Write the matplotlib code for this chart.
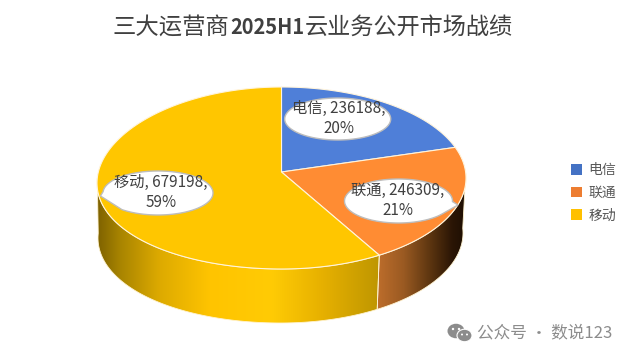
import numpy as np
import matplotlib
matplotlib.use("Agg")
import matplotlib.pyplot as plt
from matplotlib.patches import Ellipse, Polygon, Patch
from matplotlib.colors import LinearSegmentedColormap

plt.rcParams['font.family'] = ['Noto Sans CJK SC', 'DejaVu Sans']

categories = ['电信', '联通', '移动']
values = [236188, 246309, 679198]
percents = [20, 21, 59]
title_parts = ['三大运营商', '2025H1', '云业务公开市场战绩']
watermark = '公众号 · 数说123'

top_colors = ['#4F7FD8', '#FF8C33', '#FFC600']
legend_colors = ['#4472C4', '#ED7D31', '#FFC000']
TXT = '#404040'

W, H = 627, 353
fig = plt.figure(figsize=(W / 100, H / 100), dpi=100, facecolor='white')
ax = fig.add_axes([0, 0, 1, 1])

# Geometry of the tilted pie, in pixel coordinates of the picture
cx, cy, rx, ry = 281.5, 178.0, 184.5, 91.0
apex = (281.5, 172.0)
bcx, bcy, brx, bry = 280.5, 233.0, 182.5, 90.0


def rim(theta, x0=cx, y0=cy, a=rx, b=ry):
    # small perspective warp of the angle and of the far left side
    warped = theta - np.radians(3.0) * np.sin(theta)
    sag = 5.0 * np.sin(np.minimum(warped, 2 * np.pi)) ** 2 * (warped > np.pi)
    return np.column_stack([x0 + a * np.sin(warped), y0 - b * np.cos(warped) + sag])


fractions = np.array(values) / np.sum(values)
edges = np.concatenate([[0.0], np.cumsum(fractions)]) * 2 * np.pi

# Side wall: gradients clipped to the visible part of the rim
wall_styles = [
    (1, [(0.0, '#BE6E2C'), (0.30, '#9A5A22'), (0.60, '#5C3510'), (0.85, '#2A1505'), (1.0, '#1E0F03')]),
    (2, [(0.0, '#7E6200'), (0.08, '#A88400'), (0.22, '#DDAA00'), (0.40, '#FFC400'),
         (0.62, '#FFCB05'), (0.80, '#E6B000'), (1.0, '#BE9600')]),
]
for idx, stops in wall_styles:
    a0 = max(edges[idx], np.pi / 2)
    a1 = min(edges[idx + 1], 3 * np.pi / 2)
    th = np.linspace(a0, a1, 120)
    outline = np.vstack([rim(th), rim(th[::-1], bcx, bcy, brx, bry)])
    cmap = LinearSegmentedColormap.from_list('wall', stops)
    xs = outline[:, 0]
    grad = np.linspace(0, 1, 256).reshape(1, -1)
    extent = (xs.min(), xs.max(), outline[:, 1].max(), outline[:, 1].min())
    im = ax.imshow(grad, cmap=cmap, extent=extent, aspect='auto', zorder=1, interpolation='bilinear')
    poly = Polygon(outline, closed=True, transform=ax.transData, facecolor='none',
                   edgecolor='#FFF3D0', lw=0.6, zorder=1.2)
    ax.add_patch(poly)
    im.set_clip_path(poly)

# Top face
for i, color in enumerate(top_colors):
    th = np.linspace(edges[i], edges[i + 1], 200)
    pts = np.vstack([[apex], rim(th)])
    ax.add_patch(Polygon(pts, closed=True, facecolor=color, edgecolor='#FFF4DC', lw=0.8, zorder=2))

# Bubbles with data labels: centre, radii, tail, text offset
bubbles = [
    ((337.7, 119.0), 53, 21, None, 1.0),
    ((398.5, 201.0), 54, 22, ((458.0, 205.0), 0.03, 0.65), -0.5),
    ((158.0, 193.0), 55, 22, ((100.5, 196.0), 2.30, 3.20), 3.0),
]
for (center, a, b, tail, dx), cat, val, pct in zip(bubbles, categories, values, percents):
    t = np.linspace(0, 2 * np.pi, 240)
    if tail is None:
        pts = np.column_stack([center[0] + a * np.cos(t), center[1] + b * np.sin(t)])
    else:
        tip, t0, t1 = tail
        keep = np.concatenate([t[t > t1], t[t < t0]])
        pts = np.column_stack([center[0] + a * np.cos(keep), center[1] + b * np.sin(keep)])
        pts = np.vstack([pts, [tip]])
    ax.add_patch(Polygon(pts, closed=True, facecolor='white', edgecolor='#BDBDBD', lw=1.0, zorder=3))
    ax.text(center[0] + dx, center[1] - 0.5, f'{cat}, {val},\n{pct}%', ha='center', va='center',
            fontsize=11.0, color=TXT, linespacing=1.3, zorder=4)

ax.set_xlim(0, W)
ax.set_ylim(H, 0)
ax.axis('off')

# Title in three pieces, digits bold
renderer = fig.canvas.get_renderer()
x = 113.0
for part, weight, size in zip(title_parts, ['normal', 'bold', 'normal'], [16.8, 14.4, 16.7]):
    t = ax.text(x, 34, part, fontsize=size, fontweight=weight, color=TXT, ha='left', va='baseline')
    x = ax.transData.inverted().transform(t.get_window_extent(renderer).get_points())[1, 0] + 0.3

# Legend
handles = [Patch(facecolor=c, edgecolor='none', label=n) for c, n in zip(legend_colors, categories)]
ax.legend(handles=handles, loc='center left', bbox_to_anchor=(571 / W, 1 - 193 / H),
          bbox_transform=fig.transFigure, frameon=False, fontsize=10.0, labelcolor='#595959',
          handlelength=0.8, handleheight=0.8, handletextpad=0.45, labelspacing=0.62,
          borderpad=0, borderaxespad=0)

# Watermark
GRAY = '#8C8C8C'
ax.add_patch(Ellipse((456, 331), 17, 14.5, facecolor=GRAY, edgecolor='none', zorder=5))
ax.add_patch(Ellipse((464.5, 335.5), 15, 12.5, facecolor=GRAY, edgecolor='white', lw=0.8, zorder=6))
for ex, ey, s in [(453, 329, 2.4), (459, 329, 2.4), (462, 334.5, 2), (467, 334.5, 2)]:
    ax.add_patch(Ellipse((ex, ey), s, s, facecolor='white', edgecolor='none', zorder=7))
ax.text(477, 333, watermark, fontsize=12.0, color=GRAY, ha='left', va='center')

fig.savefig('out.png', dpi=100, facecolor='white')
